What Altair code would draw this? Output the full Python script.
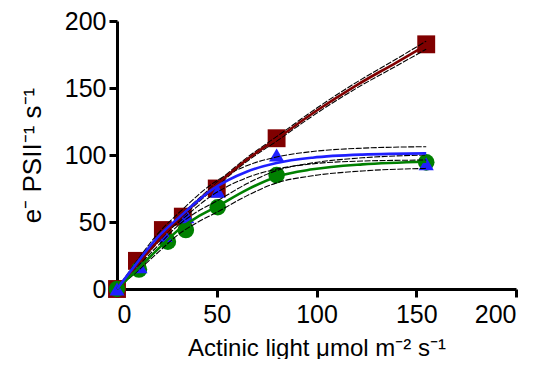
import altair as alt
import pandas as pd

# ---- measured points ----
red_x = [0, 10, 23, 33, 50, 80, 155]
red_y = [0, 21, 44, 54, 75, 112.5, 182.6]
green_x = [0, 11, 25.5, 34.5, 50.5, 80, 155]
green_y = [0, 14.5, 35.3, 44, 61, 85, 94.5]
blue_x = [0, 11.5, 24, 35, 50.5, 80, 155]
blue_y = [0, 16.6, 40, 54, 73, 100, 93.5]

# ---- fitted curves ----
red_cx = [0, 10, 20, 30, 40, 50, 65, 80, 100, 120, 140, 155]
red_cy = [0, 18, 35, 51, 65, 78, 96.5, 112, 133, 152, 169, 182]
red_hi = [0, 18.8, 36.1, 52.2, 66.2, 79.3, 97.9, 113.6, 134.9, 154.2, 171.6, 185]
red_lo = [0, 17.2, 33.9, 49.8, 63.8, 76.7, 95.1, 110.4, 131.1, 149.8, 166.4, 179]

blue_cx = [0, 10, 20, 31.5, 48, 65, 80, 98, 123, 155]
blue_cy = [0, 19.5, 38, 54, 74.5, 87.5, 94, 98, 100.3, 101.2]
blue_hi = [0, 21, 40.5, 57.5, 78.8, 92, 98.5, 102.6, 105.1, 106.2]
blue_lo = [0, 18, 35.5, 50.5, 70.2, 83, 89.5, 93.4, 95.5, 96.2]

green_cx = [0, 10, 20, 31.5, 40, 50, 65, 80, 98, 123, 155]
green_cy = [0, 14.5, 29, 45, 53.5, 61.4, 74, 83.8, 89.3, 93, 95]
green_hi = [0, 16, 31.5, 48.5, 57.5, 65.6, 78.5, 88.4, 94.1, 97.9, 100]
green_lo = [0, 13, 26.5, 41.5, 49.5, 57.2, 69.5, 79.2, 84.5, 88.1, 90]

x_ticks = [0, 50, 100, 150, 200]
y_ticks = [0, 50, 100, 150, 200]

series = ["red", "green", "blue"]
colors = ["#800000", "#008000", "#1f1fff"]
shapes = ["square", "circle", "triangle-up"]
sizes = [320, 230, 240]

pts = pd.concat([
    pd.DataFrame({"s": "red", "x": red_x, "y": red_y, "o": 0}),
    pd.DataFrame({"s": "green", "x": green_x, "y": green_y, "o": 1}),
    pd.DataFrame({"s": "blue", "x": blue_x, "y": blue_y, "o": 2}),
], ignore_index=True)

curves = pd.concat([
    pd.DataFrame({"s": "red", "x": red_cx, "y": red_cy}),
    pd.DataFrame({"s": "green", "x": green_cx, "y": green_cy}),
    pd.DataFrame({"s": "blue", "x": blue_cx, "y": blue_cy}),
], ignore_index=True)

bands = pd.concat([
    pd.DataFrame({"b": "red_hi", "x": red_cx, "y": red_hi}),
    pd.DataFrame({"b": "red_lo", "x": red_cx, "y": red_lo}),
    pd.DataFrame({"b": "green_hi", "x": green_cx, "y": green_hi}),
    pd.DataFrame({"b": "green_lo", "x": green_cx, "y": green_lo}),
    pd.DataFrame({"b": "blue_hi", "x": blue_cx, "y": blue_hi}),
    pd.DataFrame({"b": "blue_lo", "x": blue_cx, "y": blue_lo}),
], ignore_index=True)

xs = alt.Scale(domain=[0, 200], nice=False, zero=False)
ys = alt.Scale(domain=[0, 200], nice=False, zero=False)
col = alt.Scale(domain=series, range=colors)
shp = alt.Scale(domain=series, range=shapes)
szs = alt.Scale(domain=series, range=sizes)

xaxis = alt.Axis(values=x_ticks, title="Actinic light μmol m⁻² s⁻¹", grid=False)
yaxis = alt.Axis(values=y_ticks, title="e⁻ PSII⁻¹ s⁻¹", grid=False)

points = alt.Chart(pts).mark_point(filled=True, opacity=1, clip=False).encode(
    x=alt.X("x:Q", scale=xs, axis=xaxis),
    y=alt.Y("y:Q", scale=ys, axis=yaxis),
    color=alt.Color("s:N", scale=col, legend=None),
    shape=alt.Shape("s:N", scale=shp, legend=None),
    size=alt.Size("s:N", scale=szs, legend=None),
    order=alt.Order("o:Q"),
)

band_lines = alt.Chart(bands).mark_line(
    color="black", strokeWidth=1.1, strokeDash=[6, 1.5], interpolate="monotone"
).encode(
    x=alt.X("x:Q", scale=xs),
    y=alt.Y("y:Q", scale=ys),
    detail="b:N",
)

curve_lines = alt.Chart(curves).mark_line(strokeWidth=2.6, interpolate="monotone").encode(
    x=alt.X("x:Q", scale=xs),
    y=alt.Y("y:Q", scale=ys),
    color=alt.Color("s:N", scale=col, legend=None),
)

chart = alt.layer(points, band_lines, curve_lines).properties(
    width=399,
    height=268,
    autosize=alt.AutoSizeParams(type="none"),
    padding={"left": 109, "top": 13, "right": 18, "bottom": 70},
).configure_view(stroke=None).configure_axis(
    domainColor="black", domainWidth=3, tickColor="black", tickWidth=3, tickSize=8,
    labelFont="Liberation Sans", labelFontSize=25, labelColor="black",
    titleFont="Liberation Sans", titleFontSize=24, titleColor="black", titleFontWeight="normal",
    labelPadding=3,
).configure_axisX(titlePadding=9, labelPadding=5).configure_axisY(
    titlePadding=19, titleFontSize=26
)

chart.save("out.html", embed_options={"renderer": "svg", "actions": False})
